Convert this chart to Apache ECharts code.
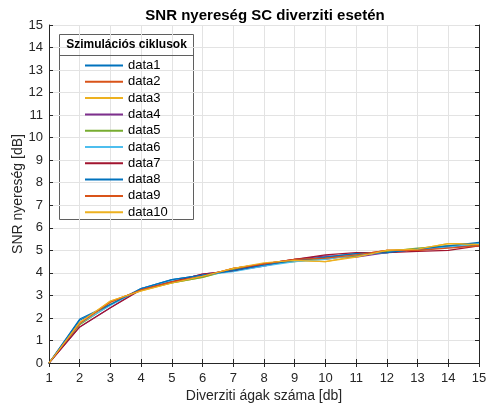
<!DOCTYPE html>
<html>
<head>
<meta charset="utf-8">
<script src="https://cdn.jsdelivr.net/npm/echarts@6/dist/echarts.min.js"></script>
<style>
  html, body { margin: 0; padding: 0; background: #fff; }
  #chart { width: 487px; height: 412px; }
</style>
</head>
<body>
<div id="chart"></div>
<script>
// Diversity branch counts (x axis)
const branches = [1, 2, 3, 4, 5, 6, 7, 8, 9, 10, 11, 12, 13, 14, 15];

// SNR gain per simulation cycle [dB]
const data1  = [0, 1.95, 2.60, 3.30, 3.70, 3.90, 4.10, 4.35, 4.55, 4.70, 4.85, 4.90, 5.05, 5.20, 5.30];
const data2  = [0, 1.80, 2.70, 3.25, 3.60, 3.85, 4.20, 4.40, 4.60, 4.60, 4.80, 5.00, 5.00, 5.15, 5.25];
const data3  = [0, 1.75, 2.75, 3.20, 3.55, 3.80, 4.20, 4.40, 4.55, 4.50, 4.75, 5.00, 5.05, 5.30, 5.30];
const data4  = [0, 1.60, 2.45, 3.30, 3.60, 3.95, 4.10, 4.30, 4.60, 4.75, 4.70, 4.90, 5.05, 5.15, 5.20];
const data5  = [0, 1.70, 2.60, 3.25, 3.55, 3.80, 4.15, 4.40, 4.50, 4.65, 4.75, 4.95, 5.10, 5.20, 5.25];
const data6  = [0, 1.75, 2.55, 3.30, 3.65, 3.90, 4.05, 4.30, 4.50, 4.60, 4.80, 4.90, 5.05, 5.15, 5.30];
const data7  = [0, 1.60, 2.45, 3.25, 3.60, 3.95, 4.10, 4.40, 4.60, 4.80, 4.90, 4.90, 4.95, 5.00, 5.20];
const data8  = [0, 1.90, 2.60, 3.30, 3.70, 3.90, 4.10, 4.35, 4.55, 4.70, 4.85, 4.90, 5.05, 5.20, 5.35];
const data9  = [0, 1.75, 2.70, 3.25, 3.60, 3.85, 4.20, 4.40, 4.60, 4.65, 4.80, 5.00, 5.00, 5.10, 5.20];
const data10 = [0, 1.80, 2.75, 3.20, 3.55, 3.85, 4.20, 4.45, 4.55, 4.50, 4.70, 5.00, 5.05, 5.30, 5.25];

const seriesNames = ['data1', 'data2', 'data3', 'data4', 'data5', 'data6', 'data7', 'data8', 'data9', 'data10'];
const seriesValues = [data1, data2, data3, data4, data5, data6, data7, data8, data9, data10];
const palette = ['#0072BD', '#D95319', '#EDB120', '#7E2F8E', '#77AC30', '#4DBEEE', '#A2142F', '#0072BD', '#D95319', '#EDB120'];

const FONT = 'Liberation Sans, Arial, Helvetica, sans-serif';
const AXIS = '#262626';
const GRID = '#e3e3e3';

const chart = echarts.init(document.getElementById('chart'), null, { renderer: 'canvas' });

const xBase = {
  type: 'value', min: 1, max: 15, interval: 1,
  axisTick: { inside: true, length: 4, lineStyle: { color: AXIS } },
  axisLine: { lineStyle: { color: AXIS, width: 1 } }
};
const yBase = {
  type: 'value', min: 0, max: 15, interval: 1,
  axisTick: { inside: true, length: 4, lineStyle: { color: AXIS } },
  axisLine: { lineStyle: { color: AXIS, width: 1 } }
};

chart.setOption({
  backgroundColor: '#ffffff',
  animation: false,
  color: palette,
  title: {
    text: 'SNR nyereség SC diverziti esetén',
    left: 260, top: 3, textAlign: 'center',
    textStyle: { fontFamily: FONT, fontSize: 15, fontWeight: 'bold', color: '#000' }
  },
  grid: { left: 49, right: 8, top: 25, bottom: 49, outerBoundsMode: 'none', containLabel: false },
  xAxis: [
    Object.assign({}, xBase, {
      position: 'bottom',
      name: 'Diverziti ágak száma [db]',
      nameLocation: 'middle', nameGap: 26, nameMoveOverlap: false,
      nameTextStyle: { fontFamily: FONT, fontSize: 14, color: AXIS },
      axisLabel: { fontFamily: FONT, fontSize: 13, color: AXIS, margin: 9 },
      splitLine: { show: true, lineStyle: { color: GRID } }
    }),
    Object.assign({}, xBase, {
      position: 'top',
      axisLabel: { show: false },
      splitLine: { show: false }
    })
  ],
  yAxis: [
    Object.assign({}, yBase, {
      position: 'left',
      name: 'SNR nyereség [dB]',
      nameLocation: 'middle', nameGap: 24, nameMoveOverlap: false,
      nameTextStyle: { fontFamily: FONT, fontSize: 14, color: AXIS },
      axisLabel: { fontFamily: FONT, fontSize: 13, color: AXIS, margin: 6 },
      splitLine: { show: true, lineStyle: { color: GRID } }
    }),
    Object.assign({}, yBase, {
      position: 'right',
      axisLabel: { show: false },
      splitLine: { show: false }
    })
  ],
  legend: {
    orient: 'vertical',
    left: 84, top: 59, padding: 0,
    itemWidth: 38, itemHeight: 14, itemGap: 3.3,
    itemStyle: { opacity: 0 },
    textStyle: { fontFamily: FONT, fontSize: 13, color: '#000' },
    data: seriesNames
  },
  graphic: [
    {
      type: 'rect', z: 0,
      shape: { x: 59.5, y: 34.5, width: 134, height: 185 },
      style: { fill: '#ffffff', stroke: '#5f5f5f', lineWidth: 1 }
    },
    {
      type: 'line', z: 1,
      shape: { x1: 59.5, y1: 55.5, x2: 193.5, y2: 55.5 },
      style: { stroke: '#5f5f5f', lineWidth: 1 }
    },
    {
      type: 'text', z: 2,
      x: 126.5, y: 45,
      style: { text: 'Szimulációs ciklusok', font: 'bold 12px ' + FONT, fill: '#000', align: 'center', verticalAlign: 'middle' }
    }
  ],
  series: seriesNames.map((name, i) => ({
    name: name,
    type: 'line',
    symbol: 'none',
    data: branches.map((b, j) => [b, seriesValues[i][j]]),
    lineStyle: { width: 1.2, color: palette[i] },
    itemStyle: { color: palette[i] },
    z: 3 + i
  }))
});
</script>
</body>
</html>
